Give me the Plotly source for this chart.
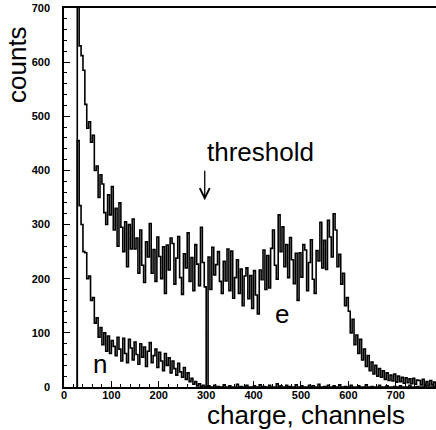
import numpy as np
import plotly.graph_objects as go

# Histogram binning (channels)
BIN_START = 28
BIN_WIDTH = 4

# electron spectrum "e" (counts per bin)
e_counts = [
    740, 630, 612, 585, 522, 478, 490, 452, 465, 400,
    408, 350, 392, 375, 322, 300, 355, 318, 370, 290,
    330, 260, 340, 295, 250, 305, 222, 300, 255, 310,
    255, 275, 210, 290, 225, 193, 268, 240, 302, 210,
    254, 195, 277, 241, 200, 259, 173, 262, 216, 275,
    265, 190, 238, 278, 202, 171, 246, 220, 285, 195,
    239, 178, 263, 227, 187, 295, 230, 185, 0, 240,
    180, 258, 207, 226, 250, 195, 173, 232, 196, 255,
    178, 251, 164, 202, 235, 173, 218, 150, 205, 220,
    163, 206, 145, 215, 170, 135, 216, 198, 253, 180,
    243, 183, 256, 290, 225, 199, 318, 250, 296, 222,
    263, 202, 276, 235, 191, 247, 160, 248, 203, 263,
    253, 178, 230, 272, 199, 173, 252, 233, 304, 220,
    271, 217, 308, 277, 240, 320, 290, 222, 245, 190,
    210, 150, 165, 140, 100, 125, 78, 96, 62, 88,
    50, 70, 38, 58, 30, 46, 24, 40, 20, 34,
    18, 30, 14, 26, 12, 22, 11, 24, 9, 20,
    10, 18, 7, 17, 8, 15, 6, 16, 5, 13,
    12, 4, 14, 5, 10, 3, 12, 4, 9, 3, 8,
]

# neutron spectrum "n" (counts per bin)
n_counts = [
    455, 335, 300, 250, 248, 200, 205, 160, 165, 118,
    128, 92, 110, 78, 100, 66, 94, 62, 86, 75,
    58, 92, 70, 48, 90, 62, 45, 88, 72, 50,
    83, 60, 42, 80, 55, 74, 38, 66, 82, 45,
    58, 70, 36, 64, 48, 30, 62, 40, 54, 26,
    48, 34, 22, 44, 28, 18, 36, 14, 26, 10,
    16, 5, 10, 2, 6, 1, 3, 0,
    0, 2, 0, 0, 3, 0, 1, 0, 0, 4,
    0, 0, 2, 0, 0, 0, 5, 0, 1, 0,
    0, 3, 0, 0, 0, 2, 0, 0, 4, 0,
    1, 0, 0, 3, 0, 0, 0, 6, 0, 2,
    0, 0, 3, 0, 1, 0, 0, 4, 0, 0,
    2, 0, 0, 0, 3, 0, 2, 0, 0, 5,
    0, 0, 1, 0, 3, 0, 0, 2, 0, 0,
    4, 0, 0, 1, 0, 0, 3, 0, 0, 0,
    2, 0, 0, 0, 4, 0, 0, 1, 0, 0,
    0, 3, 0, 0, 0, 2, 0, 0, 0, 1,
    0, 0, 2, 0, 0, 0, 0, 3, 0, 0,
    0, 1, 0, 0, 0, 2, 0, 0, 0, 0,
    1, 0, 0,
]

x_ticks = [0, 100, 200, 300, 400, 500, 600, 700]
y_ticks = [0, 100, 200, 300, 400, 500, 600, 700]

THRESHOLD = 297


def steps(counts):
    edges = BIN_START + BIN_WIDTH * np.arange(len(counts) + 1)
    x = np.concatenate([[edges[0]], edges])
    y = np.concatenate([[0], counts, [counts[-1]]])
    return x, y


fig = go.Figure()
for counts in (e_counts, n_counts):
    x, y = steps(counts)
    fig.add_trace(go.Scatter(x=x, y=y, mode="lines", line_shape="hv",
                             line=dict(color="black", width=1.6),
                             hoverinfo="skip"))

tickfont = dict(family="Liberation Sans", size=11, color="black", weight="bold")
axis_common = dict(showline=True, linecolor="black", linewidth=1.5,
                   ticks="inside", ticklen=6, tickwidth=1, tickcolor="black",
                   showgrid=False, zeroline=False, tickfont=tickfont,
                   automargin=False,
                   minor=dict(ticks="inside", dtick=20, ticklen=3,
                              tickcolor="black", tickwidth=1))

fig.update_xaxes(range=[0, 785], tickvals=x_ticks, mirror=True,
                 ticklabelstandoff=-3, **axis_common)
fig.update_yaxes(range=[0, 700], tickvals=y_ticks, ticklabelstandoff=10,
                 **axis_common)

W, H = 436, 430
PL, PT, PW, PH = 64, 8, 372, 379   # plot area in pixels


def px(xp, yp):
    return (xp - PL) / PW, (PT + PH - yp) / PH


big = dict(family="Liberation Sans", size=26, color="black")
labels = [("counts", 17, 65, -90), ("charge, channels", 306, 415, 0),
          ("threshold", 260, 152, 0), ("e", 282, 314, 0), ("n", 100, 364, 0)]
for text, xp, yp, ang in labels:
    ax_, ay_ = px(xp, yp)
    fig.add_annotation(text=text, textangle=ang, xref="paper", yref="paper",
                       x=ax_, y=ay_, showarrow=False, font=big,
                       xanchor="center", yanchor="middle")

fig.add_annotation(x=THRESHOLD, y=345, xref="x", yref="y", text="",
                   showarrow=True, ax=0, ay=-31, arrowhead=5, arrowsize=1.5,
                   arrowwidth=1.3, arrowcolor="black")

fig.update_layout(width=W, height=H,
                  margin=dict(l=PL, r=W - PL - PW, t=PT, b=H - PT - PH),
                  plot_bgcolor="white", paper_bgcolor="white",
                  showlegend=False)

fig.write_html("out.html", config={"displayModeBar": False},
               post_script="document.body.style.margin='0';")
